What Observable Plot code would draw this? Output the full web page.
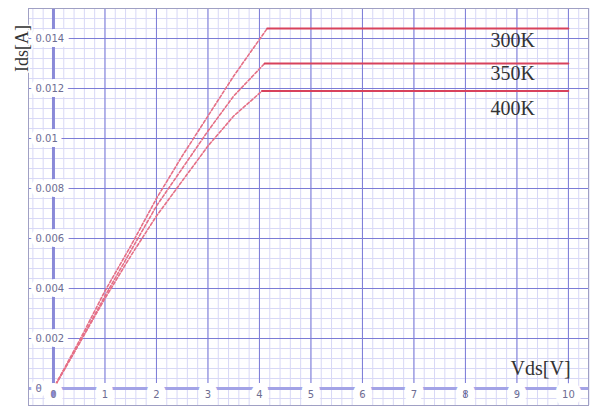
<!DOCTYPE html>
<html>
<head>
<meta charset="utf-8">
<script src="https://cdn.jsdelivr.net/npm/d3@7"></script>
<script src="https://cdn.jsdelivr.net/npm/@observablehq/plot@0.6"></script>
<style>
  html, body { margin: 0; padding: 0; background: #fff; }
  #chart svg { display: block; }
</style>
</head>
<body>
<div id="chart"></div>
<script>
// ---- data ----
const vds300 = [0, 0.5, 1, 1.5, 2, 2.5, 3, 3.5, 4.15, 10];
const ids300 = [0, 0.0019, 0.0039, 0.0057, 0.0076, 0.0093, 0.0109, 0.0125, 0.0144, 0.0144];
const vds350 = [0, 0.5, 1, 1.5, 2, 2.5, 3, 3.5, 4.1, 10];
const ids350 = [0, 0.0018, 0.0037, 0.0055, 0.0073, 0.0088, 0.0103, 0.0117, 0.0130, 0.0130];
const vds400 = [0, 0.5, 1, 1.5, 2, 2.5, 3, 3.5, 4.05, 10];
const ids400 = [0, 0.0018, 0.0036, 0.0053, 0.0069, 0.0083, 0.0097, 0.0109, 0.0119, 0.0119];
const seriesNames = ["300K", "350K", "400K"];
const labelX = [8.92, 8.92, 8.92];
const labelY = [0.0139, 0.0126, 0.0112];

const xTicks = [0, 1, 2, 3, 4, 5, 6, 7, 8, 9, 10];
const xTickLabels = ["0", "1", "2", "3", "4", "5", "6", "7", "8", "9", "10"];
const yTicks = [0, 0.002, 0.004, 0.006, 0.008, 0.01, 0.012, 0.014];
const yTickLabels = ["0", "0.002", "0.004", "0.006", "0.008", "0.01", "0.012", "0.014"];
const xMinor = d3.range(-2, 53).map(i => i / 5);
const yMinor = d3.range(-1, 39).map(i => i * 0.0004);

// ---- build rows ----
const raw = [[vds300, ids300], [vds350, ids350], [vds400, ids400]];
const rising = [], flat = [];
raw.forEach(([xs, ys], k) => {
  const n = xs.length;
  xs.forEach((x, i) => {
    if (i <= n - 2) rising.push({T: seriesNames[k], x, y: ys[i]});
    if (i >= n - 2) flat.push({T: seriesNames[k], x, y: ys[i]});
  });
});
const labels = seriesNames.map((t, i) => ({t, x: labelX[i], y: labelY[i]}));
const xLab = xTicks.map((v, i) => ({v, t: xTickLabels[i]}));
const yLab = yTicks.map((v, i) => ({v, t: yTickLabels[i]}));

const chart = Plot.plot({
  width: 592,
  height: 413,
  marginLeft: 28,
  marginTop: 8,
  marginRight: 4,
  marginBottom: 8,
  x: {domain: [-0.485, 10.39], axis: null},
  y: {domain: [-0.00068, 0.0152], axis: null},
  style: {background: "#fff"},
  marks: [
    Plot.gridX(xMinor, {stroke: "#d8d8f6", strokeOpacity: 1}),
    Plot.gridY(yMinor, {stroke: "#d8d8f6", strokeOpacity: 1}),
    Plot.gridX(xTicks.slice(1), {stroke: "#7c7cd6", strokeOpacity: 1}),
    Plot.gridY(yTicks.slice(1), {stroke: "#7c7cd6", strokeOpacity: 1}),
    Plot.ruleX([0], {stroke: "#8a8ad8", strokeWidth: 3}),
    Plot.ruleY([0], {stroke: "#a3a3e6", strokeWidth: 3}),
    Plot.line(rising, {x: "x", y: "y", z: "T", stroke: "#e56f86", strokeWidth: 1.6, strokeDasharray: "3,2"}),
    Plot.line(flat, {x: "x", y: "y", z: "T", stroke: "#d8425c", strokeWidth: 1.8}),
    Plot.text(yLab, {y: "v", text: "t", frameAnchor: "left", textAnchor: "start", dx: 7,
      fill: "#6d6d92", fontSize: 10, fontFamily: "DejaVu Sans", stroke: "white", strokeWidth: 10, paintOrder: "stroke"}),
    Plot.text(xLab, {x: "v", text: "t", frameAnchor: "bottom", dy: -8,
      fill: "#6d6d92", fontSize: 10, fontFamily: "DejaVu Sans", stroke: "white", strokeWidth: 14, paintOrder: "stroke"}),
    Plot.text(labels, {x: "x", y: "y", text: "t", fill: "#333", fontSize: 20, fontFamily: "Liberation Serif"}),
    Plot.text(["Vds[V]"], {x: 9.46, y: 0.0008, text: d => d, fill: "#333", fontSize: 20, fontFamily: "Liberation Serif"}),
    Plot.frame({stroke: "#a0a0c4"}),
    Plot.text(["Ids[A]"], {frameAnchor: "top-left", dx: -6, dy: 40, rotate: -90, text: d => d,
      textAnchor: "middle", lineAnchor: "middle",
      fill: "#333", fontSize: 18, fontFamily: "Liberation Serif", stroke: "white", strokeWidth: 3, paintOrder: "stroke"})
  ]
});
document.getElementById("chart").appendChild(chart);
</script>
</body>
</html>
